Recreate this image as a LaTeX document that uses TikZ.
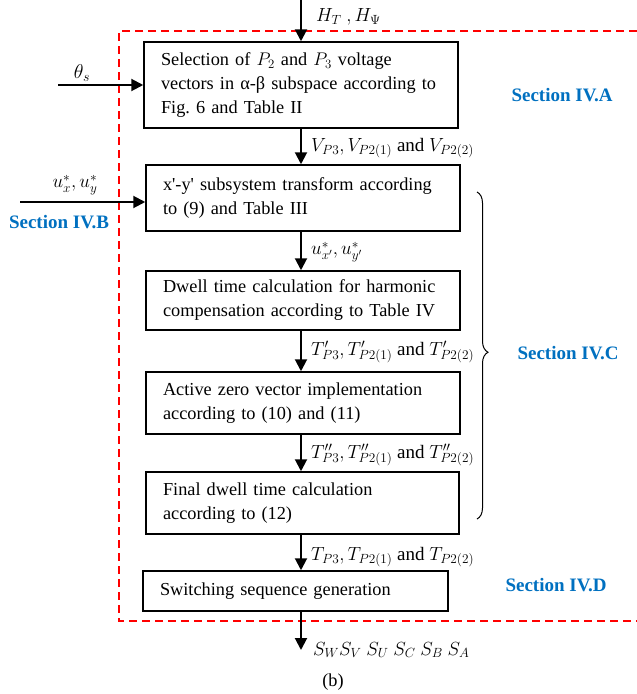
\documentclass[tikz,border=0pt]{standalone}
\usepackage{fontspec}
\setmainfont{Liberation Serif}
\usepackage{fix-cm}
\usetikzlibrary{arrows.meta,decorations.pathreplacing}
\definecolor{secblue}{RGB}{0,112,192}
\definecolor{dashred}{RGB}{255,0,0}
\frenchspacing
\begin{document}
\begin{tikzpicture}[x=1pt,y=-1pt,
  box/.style={draw,line width=1.5pt,inner xsep=17pt,align=left,font=\fontsize{18.3}{24}\selectfont\frenchspacing,anchor=center},
  arr/.style={line width=2pt,-{Triangle[length=12pt,width=12pt]}},
  lbl/.style={font=\fontsize{19}{22}\selectfont,anchor=west,inner sep=0pt},
  sec/.style={font=\fontsize{19}{22}\selectfont\bfseries,text=secblue,inner sep=0pt}]
\useasboundingbox (0,0) rectangle (637,694);
% dashed region
\draw[dashred,line width=1.6pt,dash pattern=on 8pt off 5pt] (637,31) -- (119,31) -- (119,621) -- (637,621);
% boxes
\node[box,minimum width=314pt,minimum height=86pt,text width=280pt] (b1) at (301,85)
  {Selection of $P_2$ and $P_3$ voltage\\vectors in α-β subspace according to\\Fig. 6 and Table II};
\node[box,minimum width=314pt,minimum height=66pt,text width=280pt] (b2) at (303,198)
  {x\textquotesingle-y\textquotesingle{} subsystem transform according\\to (9) and Table III};
\node[box,minimum width=314pt,minimum height=59pt,text width=280pt] (b3) at (303,300.5)
  {Dwell time calculation for harmonic\\compensation according to Table IV};
\node[box,minimum width=314pt,minimum height=62pt,text width=280pt] (b4) at (303,403)
  {Active zero vector implementation\\according to (10) and (11)};
\node[box,minimum width=313pt,minimum height=62pt,text width=279pt] (b5) at (302.5,503)
  {Final dwell time calculation\\according to (12)};
\node[box,minimum width=305pt,minimum height=40pt,text width=271pt] (b6) at (295.5,591)
  {Switching sequence generation};
% coordinates
\coordinate (top) at (301,0);
\coordinate (bot) at (301,650);
\coordinate (th) at (58,85);
\coordinate (ux) at (20,202);
% arrows
\draw[arr] (top) -- (top |- b1.north);
\draw[arr] (b1.south -| top) -- (b2.north -| top);
\draw[arr] (b2.south -| top) -- (b3.north -| top);
\draw[arr] (b3.south -| top) -- (b4.north -| top);
\draw[arr] (b4.south -| top) -- (b5.north -| top);
\draw[arr] (b5.south -| top) -- (b6.north -| top);
\draw[arr] (b6.south -| top) -- (bot);
\draw[arr] (th) -- (th -| b1.west);
\draw[arr] (ux) -- (ux -| b2.west);
% labels
\node[lbl] (lH) at (316,17) {$H_T\ ,H_\Psi$};
\node[lbl] (lV) at (311,148) {$V_{P3}, V_{P2(1)}$ and $V_{P2(2)}$};
\node[lbl] (lu) at (311,252) {$u_{x'}^{*}, u_{y'}^{*}$};
\node[lbl] (lT1) at (311,352) {$T_{P3}', T_{P2(1)}'$ and $T_{P2(2)}'$};
\node[lbl] (lT2) at (311,455) {$T_{P3}'', T_{P2(1)}''$ and $T_{P2(2)}''$};
\node[lbl] (lT3) at (311,557) {$T_{P3}, T_{P2(1)}$ and $T_{P2(2)}$};
\node[lbl] (lS) at (313,650) {$S_W S_V\ S_U\ S_C\ S_B\ S_A$};
\node[font=\fontsize{20}{22}\selectfont,inner sep=0pt] (lth) at (82,73) {$\theta_s$};
\node[font=\fontsize{19}{22}\selectfont,inner sep=0pt] (lux) at (75,185) {$u_x^{*}, u_y^{*}$};
\node[font=\fontsize{18.3}{22}\selectfont,inner sep=0pt] (cap) at (333,682) {(b)};
% sections
\node[sec] (sA) at (562,95) {Section IV.A};
\node[sec] (sB) at (59,222) {Section IV.B};
\node[sec] (sC) at (568,353) {Section IV.C};
\node[sec] (sD) at (556,585) {Section IV.D};
% brace
\draw[line width=1pt,decorate,decoration={brace,amplitude=11pt,aspect=0.49}] (477,192) -- (477,519);
\end{tikzpicture}
\end{document}
